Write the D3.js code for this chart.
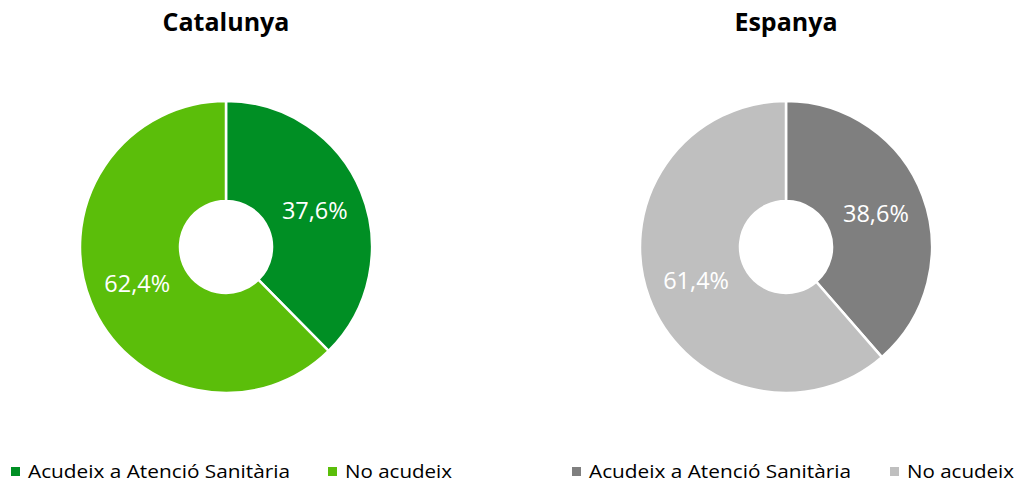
<!DOCTYPE html>
<html><head><meta charset="utf-8">
<script src="https://cdn.jsdelivr.net/npm/d3@7"></script>
<style>html,body{margin:0;padding:0;background:#fff;}svg{display:block;}</style>
</head><body>
<svg id="c" width="1017" height="483"></svg>
<script>
const titles = ["Catalunya", "Espanya"];
const categories = ["Acudeix a Atenció Sanitària", "No acudeix"];
const catValues = [37.6, 62.4];
const espValues = [38.6, 61.4];
const catLabels = ["37,6%", "62,4%"];
const espLabels = ["38,6%", "61,4%"];
const catColors = ["#008F24", "#5BBE0A"];
const espColors = ["#7F7F7F", "#BFBFBF"];

const svg = d3.select("#c");
const FONT = "'Open Sans', 'Noto Sans', sans-serif";

const charts = [
  {title: titles[0], values: catValues, labels: catLabels, colors: catColors, cx: 226, legendX: [11, 328]},
  {title: titles[1], values: espValues, labels: espLabels, colors: espColors, cx: 786, legendX: [572, 890]}
];
const cy = 247, R = 146, r = 46;
const pie = d3.pie().sort(null).value(d => d);
const arc = d3.arc().innerRadius(r).outerRadius(R);
const labelArc = d3.arc().innerRadius(r).outerRadius(R);

charts.forEach(ch => {
  const g = svg.append("g").attr("transform", `translate(${ch.cx},${cy})`);
  const arcs = pie(ch.values);
  g.selectAll("path").data(arcs).enter().append("path")
    .attr("d", arc)
    .attr("fill", (d, i) => ch.colors[i])
    .attr("stroke", "#fff").attr("stroke-width", 2.5).attr("stroke-linejoin", "miter");
  g.selectAll("text.lbl").data(arcs).enter().append("text")
    .attr("class", "lbl")
    .attr("x", d => labelArc.centroid(d)[0])
    .attr("y", d => labelArc.centroid(d)[1])
    .attr("dy", "0.35em")
    .attr("text-anchor", "middle")
    .attr("fill", "#fff")
    .attr("font-family", FONT).attr("font-size", 23.5)
    .text((d, i) => ch.labels[i]);
  svg.append("text")
    .attr("x", ch.cx).attr("y", 31)
    .attr("text-anchor", "middle")
    .attr("font-family", FONT).attr("font-weight", "bold").attr("font-size", 25)
    .attr("fill", "#000")
    .text(ch.title);
  categories.forEach((c, i) => {
    const x = ch.legendX[i];
    svg.append("rect").attr("x", x).attr("y", 467).attr("width", 9).attr("height", 9)
      .attr("fill", ch.colors[i]);
    svg.append("text").attr("x", x + 17).attr("y", 478)
      .attr("font-family", FONT).attr("font-size", 18).attr("fill", "#000")
      .attr("textLength", i === 0 ? 262 : 107).attr("lengthAdjust", "spacingAndGlyphs")
      .text(c);
  });
});
</script>
</body></html>
